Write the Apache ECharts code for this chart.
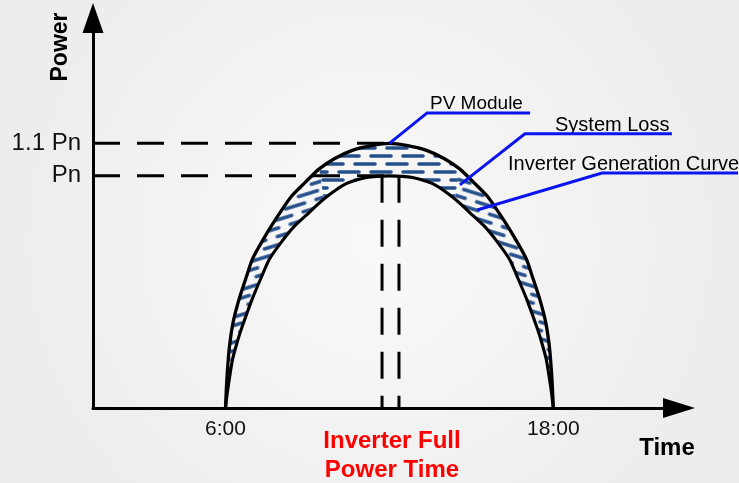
<!DOCTYPE html>
<html><head><meta charset="utf-8">
<script src="https://cdn.jsdelivr.net/npm/echarts@6/dist/echarts.min.js"></script>
<style>html,body{margin:0;padding:0;background:#f2f2f2}#c{width:739px;height:483px}</style>
</head><body><div id="c"></div>
<script>
// ---- data ----
const outerHours = [6.00,6.03,6.07,6.14,6.28,6.50,6.75,6.98,7.35,7.82,8.40,8.90,9.43,10.00,10.64,11.33,12.00,12.67,13.36,14.00,14.57,15.10,15.60,16.18,16.65,17.02,17.25,17.50,17.72,17.86,17.93,17.97,18.00];
const outerPower = [0,0.08,0.16,0.26,0.37,0.47,0.56,0.64,0.72,0.81,0.91,0.97,1.03,1.075,1.11,1.13,1.14,1.13,1.11,1.075,1.03,0.97,0.91,0.81,0.72,0.64,0.56,0.47,0.37,0.26,0.16,0.08,0];
const innerHours = [6.00,6.06,6.12,6.26,6.42,6.58,6.98,7.30,7.60,8.08,8.50,8.95,9.60,10.40,11.15,12.00,12.85,13.60,14.40,15.05,15.50,15.92,16.40,16.70,17.02,17.42,17.58,17.74,17.88,17.94,18.00];
const innerPower = [0,0.06,0.11,0.21,0.28,0.34,0.47,0.56,0.64,0.72,0.78,0.83,0.90,0.965,0.993,1.00,0.993,0.965,0.90,0.83,0.78,0.72,0.64,0.56,0.47,0.34,0.28,0.21,0.11,0.06,0];
const xTickValues = [6, 18];
const xTickLabels = ['6:00', '18:00'];
const yTickValues = [1.0, 1.14];
const yTickLabels = ['Pn', '1.1 Pn'];
const ratedPower = 1.0;
const overPower = 1.14;
const guideStartHour = 1.15;
const peakHour = 12;
const fullPowerHours = [11.73, 12.35];
const pvLeaderHours = [12.0, 13.38, 17.15];
const pvLeaderPower = [1.14, 1.271, 1.271];
const lossLeaderHours = [14.58, 16.96, 22.34];
const lossLeaderPower = [0.961, 1.181, 1.181];
const invLeaderHours = [15.21, 19.78, 24.76];
const invLeaderPower = [0.853, 1.012, 1.012];

const zip = (xs, ys) => xs.map((x, i) => [x, ys[i]]);

function makeHatch() {
  const c = document.createElement('canvas');
  c.width = 32; c.height = 16;
  const g = c.getContext('2d');
  g.strokeStyle = '#244f8a'; g.lineWidth = 3.6; g.lineCap = 'round';
  const seg = (a, b, y) => { g.beginPath(); g.moveTo(a, y); g.lineTo(b, y); g.stroke(); };
  seg(3, 23, 4); seg(19, 39, 12); seg(-13, 7, 12);
  return c;
}
const hatch = makeHatch();

const chart = echarts.init(document.getElementById('c'), null, {renderer: 'canvas'});
const FONT = 'Liberation Sans, Arial, sans-serif';
const dashed = {color: '#000', width: 3, type: [27, 17]};
function lineSeries(data, style, extra) {
  return Object.assign({type: 'line', data, showSymbol: false, symbol: 'none', silent: true,
    lineStyle: style, clip: false, animation: false}, extra || {});
}
const leaders = [zip(pvLeaderHours, pvLeaderPower), zip(lossLeaderHours, lossLeaderPower), zip(invLeaderHours, invLeaderPower)];

// band pieces: [outer from, outer to, inner from, inner to, hatch tilt]
const bandPieces = [[0, 12, 0, 12, -0.3], [12, 20, 12, 18, 0], [20, 32, 18, 30, 0.3]];
function bandPiece(api, p) {
  const pts = [];
  for (let i = p[0]; i <= p[1]; i++) pts.push(api.coord([outerHours[i], outerPower[i]]));
  for (let i = p[3]; i >= p[2]; i--) pts.push(api.coord([innerHours[i], innerPower[i]]));
  return {type: 'polygon', shape: {points: pts},
    style: {fill: {image: hatch, repeat: 'repeat', rotation: p[4]}, stroke: null}};
}

chart.setOption({
  animation: false,
  backgroundColor: {type: 'radial', x: 0.5, y: 0.5, r: 0.75,
    colorStops: [{offset: 0, color: '#f9f9f9'}, {offset: 1, color: '#ededed'}]},
  grid: {left: 93, right: 60, top: 18, bottom: 75, containLabel: false, outerBoundsMode: 'none'},
  xAxis: {
    type: 'value', min: 1.15, max: 22.6,
    axisLine: {onZero: true, lineStyle: {color: '#000', width: 3}, symbol: ['none', 'triangle'], symbolSize: [20, 32]},
    axisTick: {show: false}, splitLine: {show: false},
    axisLabel: {customValues: xTickValues, formatter: v => xTickLabels[xTickValues.indexOf(v)],
      color: '#111', fontSize: 21, margin: 11, fontFamily: FONT}
  },
  yAxis: {
    type: 'value', min: 0, max: 1.68,
    axisLine: {show: true, lineStyle: {color: '#000', width: 3}, symbol: ['none', 'triangle'], symbolSize: [21, 30]},
    axisTick: {show: false}, splitLine: {show: false},
    axisLabel: {customValues: yTickValues, formatter: v => yTickLabels[yTickValues.indexOf(v)],
      color: '#111', fontSize: 24, margin: 12, fontFamily: FONT}
  },
  series: [
    {type: 'custom', coordinateSystem: 'cartesian2d', data: [[peakHour, ratedPower]], silent: true, z: 1,
      renderItem: (params, api) => ({type: 'group', children: bandPieces.map(p => bandPiece(api, p))})},
    lineSeries(zip([guideStartHour, peakHour], [overPower, overPower]), dashed, {z: 2}),
    lineSeries(zip([guideStartHour, peakHour], [ratedPower, ratedPower]), dashed, {z: 2}),
    lineSeries(zip([fullPowerHours[0], fullPowerHours[0]], [ratedPower, 0]), dashed, {z: 2}),
    lineSeries(zip([fullPowerHours[1], fullPowerHours[1]], [ratedPower, 0]), dashed, {z: 2}),
    lineSeries(zip(outerHours, outerPower), {color: '#000', width: 3.3}, {smooth: 0.2, z: 3}),
    lineSeries(zip(innerHours, innerPower), {color: '#000', width: 3.1}, {smooth: 0.2, z: 3}),
    {type: 'custom', coordinateSystem: 'cartesian2d', data: [[peakHour, overPower]], silent: true, z: 4, clip: false,
      renderItem: (params, api) => ({
        type: 'group',
        children: leaders.map(l => ({type: 'polyline', shape: {points: l.map(p => api.coord(p))},
          style: {stroke: '#0a14ee', lineWidth: 3, fill: null}}))
      })}
  ],
  graphic: [
    {type: 'text', x: 61, y: 47, rotation: Math.PI / 2, silent: true,
      style: {text: 'Power', font: 'bold 23px ' + FONT, fill: '#000', align: 'center', verticalAlign: 'middle'}},
    {type: 'text', x: 667, y: 448, silent: true,
      style: {text: 'Time', font: 'bold 24px ' + FONT, fill: '#000', align: 'center', verticalAlign: 'middle'}},
    {type: 'text', x: 392, y: 441, silent: true,
      style: {text: 'Inverter Full', font: 'bold 24px ' + FONT, fill: '#ff0000', align: 'center', verticalAlign: 'middle'}},
    {type: 'text', x: 392, y: 470, silent: true,
      style: {text: 'Power Time', font: 'bold 24px ' + FONT, fill: '#ff0000', align: 'center', verticalAlign: 'middle'}},
    {type: 'text', x: 430, y: 104, silent: true,
      style: {text: 'PV Module', font: '19px ' + FONT, fill: '#000', align: 'left', verticalAlign: 'middle'}},
    {type: 'text', x: 555, y: 125, silent: true,
      style: {text: 'System Loss', font: '20px ' + FONT, fill: '#000', align: 'left', verticalAlign: 'middle'}},
    {type: 'text', x: 508, y: 164, silent: true,
      style: {text: 'Inverter Generation Curve', font: '20px ' + FONT, fill: '#000', align: 'left', verticalAlign: 'middle'}}
  ]
});
</script></body></html>
